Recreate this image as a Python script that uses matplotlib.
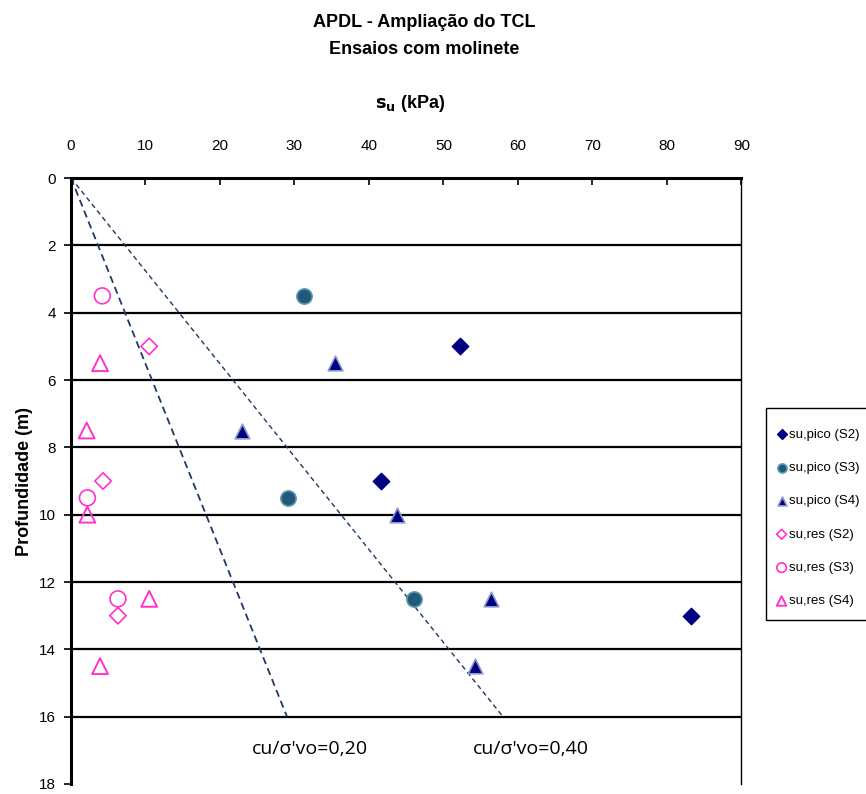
import matplotlib
matplotlib.use("Agg")
import matplotlib.pyplot as plt
from matplotlib.patches import Rectangle

plt.rcParams['font.family'] = ['Liberation Sans', 'DejaVu Sans']

# Data
pico_s2_x = [52.2, 41.6, 83.3]
pico_s2_y = [5.0, 9.0, 13.0]
pico_s3_x = [31.3, 29.2, 46.0]
pico_s3_y = [3.5, 9.5, 12.5]
pico_s4_x = [35.5, 23.0, 43.8, 56.4, 54.3]
pico_s4_y = [5.5, 7.5, 10.0, 12.5, 14.5]
res_s2_x = [10.5, 4.3, 6.3]
res_s2_y = [5.0, 9.0, 13.0]
res_s3_x = [4.2, 2.2, 6.3]
res_s3_y = [3.5, 9.5, 12.5]
res_s4_x = [3.9, 2.1, 2.2, 10.5, 3.9]
res_s4_y = [5.5, 7.5, 10.0, 12.5, 14.5]
line20_x = [0, 29.0]
line20_y = [0, 16]
line40_x = [0, 58.0]
line40_y = [0, 16]
xticks = [0, 10, 20, 30, 40, 50, 60, 70, 80, 90]
yticks = [0, 2, 4, 6, 8, 10, 12, 14, 16, 18]

fig = plt.figure(figsize=(8.66, 7.94), dpi=100)
ax = fig.add_axes([0.082, 0.0126, 0.774, 0.7632])
ax.set_xlim(0, 90)
ax.set_ylim(18, 0)
ax.xaxis.tick_top()
ax.set_xticks(xticks)
ax.set_yticks(yticks)
ax.tick_params(axis='x', direction='in', length=5, width=1.2, labelsize=11, pad=18)
ax.tick_params(axis='y', direction='out', length=5, width=1.2, labelsize=11, pad=6)
for y in yticks[1:-1]:
    ax.axhline(y, color='black', lw=1.6, zorder=1)
for s in ['left', 'top']:
    ax.spines[s].set_linewidth(2.2)
ax.spines['right'].set_linewidth(1.0)
ax.spines['bottom'].set_visible(False)

ax.plot(line20_x, line20_y, color='#1f3864', lw=1.3, ls=(0, (4, 2.5)), zorder=2)
ax.plot(line40_x, line40_y, color='#1f3864', lw=1.0, ls=(0, (3.5, 2.5)), zorder=2)

ax.scatter(pico_s2_x, pico_s2_y, marker='D', s=70, color='#000080', zorder=3, label='su,pico (S2)')
ax.scatter(pico_s3_x, pico_s3_y, marker='o', s=120, facecolor='#215a78', edgecolor='#5b9bb0', lw=1.2, zorder=3, label='su,pico (S3)')
ax.scatter(pico_s4_x, pico_s4_y, marker='^', s=110, facecolor='#000080', edgecolor='#8898c8', lw=1.2, zorder=3, label='su,pico (S4)')
ax.scatter(res_s2_x, res_s2_y, marker='D', s=70, facecolor='none', edgecolor='#ff33cc', lw=1.2, zorder=3, label='su,res (S2)')
ax.scatter(res_s3_x, res_s3_y, marker='o', s=130, facecolor='none', edgecolor='#ff33cc', lw=1.2, zorder=3, label='su,res (S3)')
ax.scatter(res_s4_x, res_s4_y, marker='^', s=130, facecolor='none', edgecolor='#ff33cc', lw=1.4, zorder=3, label='su,res (S4)')

ax.text(24.3, 16.95, "cu/σ'vo=0,20", fontsize=14, family=['Open Sans', 'DejaVu Sans'], va='center', ha='left')
ax.text(54.0, 16.95, "cu/σ'vo=0,40", fontsize=14, family=['Open Sans', 'DejaVu Sans'], va='center', ha='left')

ax.set_ylabel('Profundidade (m)', fontsize=13, fontweight='bold', labelpad=4)

fig.text(0.49, 0.972, 'APDL - Ampliação do TCL', ha='center', va='center', fontsize=13, fontweight='bold')
fig.text(0.49, 0.938, 'Ensaios com molinete', ha='center', va='center', fontsize=13, fontweight='bold')
fig.text(0.474, 0.870, r'$\mathbf{s_u}$ (kPa)', ha='center', va='center', fontsize=13, fontweight='bold')

# legend frame drawn separately (reaches the right edge like the reference)
fig.patches.append(Rectangle((0.885, 0.219), 0.2, 0.267, transform=fig.transFigure,
                             facecolor='white', edgecolor='black', lw=1.0, zorder=0))
leg = fig.legend(loc='upper left', bbox_to_anchor=(0.885, 0.472), fontsize=9.5, frameon=False,
                 handletextpad=0.1, labelspacing=1.6,
                 borderpad=0.7, handlelength=0.9, borderaxespad=0, scatterpoints=1, markerscale=0.6)

fig.savefig('out.png', dpi=100)
